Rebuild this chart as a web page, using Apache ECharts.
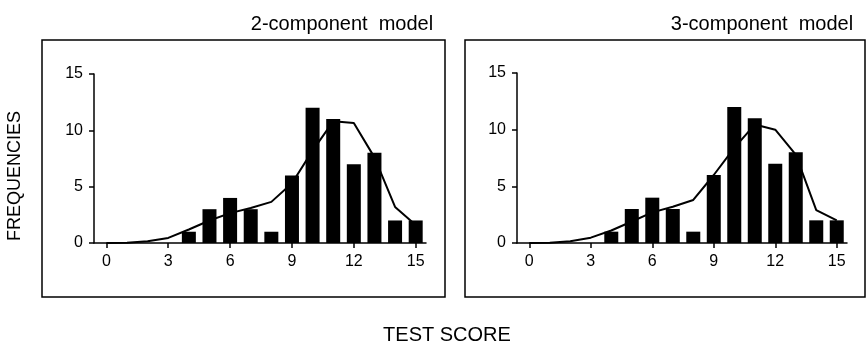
<!DOCTYPE html>
<html><head><meta charset="utf-8">
<script src="https://cdn.jsdelivr.net/npm/echarts@6/dist/echarts.min.js"></script>
<style>html,body{margin:0;padding:0;background:#fff}#c{width:866px;height:345px}</style>
</head><body><div id="c"></div>
<script>
const scores = [0,1,2,3,4,5,6,7,8,9,10,11,12,13,14,15];
const observed = [0,0,0,0,1,3,4,3,1,6,12,11,7,8,2,2];
const fit2 = [0,0.03,0.15,0.45,1.2,2.0,2.65,3.1,3.65,5.3,8.2,10.8,10.65,7.6,3.2,1.6];
const fit3 = [0,0.03,0.15,0.47,1.1,1.9,2.7,3.2,3.8,6.0,8.4,10.45,10.0,7.8,2.9,2.0];
const xTicks = [0,3,6,9,12,15];
const yTicks = [0,5,10,15];
const panelTitles = ['2-component  model','3-component  model'];
const xTitle = 'TEST SCORE';
const yTitle = 'FREQUENCIES';

const font = 'Liberation Sans, Arial, sans-serif';
const chart = echarts.init(document.getElementById('c'));
const grids = [
  {left:94, top:74, width:332, height:169},
  {left:517, top:73, width:330, height:170}
];
const xAxes = grids.map((g,i)=>({
  type:'value', gridIndex:i, min:-0.6, max:15.5,
  splitLine:{show:false},
  axisLine:{show:true, onZero:false, lineStyle:{color:'#000', width:1.5}},
  axisTick:{show:true, customValues:xTicks, length:5, lineStyle:{color:'#000', width:1.5}},
  axisLabel:{customValues:xTicks, color:'#000', fontFamily:font, fontSize:16, margin:11}
}));
const yAxes = grids.map((g,i)=>({
  type:'value', gridIndex:i, min:0, max:15, interval:5,
  splitLine:{show:false},
  axisLine:{show:true, onZero:false, lineStyle:{color:'#000', width:1.5}},
  axisTick:{show:true, length:5, lineStyle:{color:'#000', width:1.5}},
  axisLabel:{color:'#000', fontFamily:font, fontSize:16, margin:11}
}));
const pair = arr => scores.map((s,k)=>[s, arr[k]]);
const series = [];
[fit2, fit3].forEach((fit,i)=>{
  series.push({type:'bar', xAxisIndex:i, yAxisIndex:i, data:pair(observed), barWidth:14,
    itemStyle:{color:'#000'}, silent:true, z:2});
  series.push({type:'line', xAxisIndex:i, yAxisIndex:i, data:pair(fit), symbol:'none',
    lineStyle:{color:'#000', width:2}, silent:true, z:3});
});
const tStyle = {fontFamily:font, fontSize:20, fontWeight:'normal', color:'#000'};
chart.setOption({
  animation:false,
  title: [
    {text:panelTitles[0], left:337, top:9, textAlign:'center', textStyle:tStyle},
    {text:panelTitles[1], left:757, top:9, textAlign:'center', textStyle:tStyle}
  ],
  grid: grids,
  xAxis: xAxes,
  yAxis: yAxes,
  series: series,
  graphic: [
    {type:'rect', shape:{x:42, y:40, width:403, height:257}, style:{fill:'none', stroke:'#000', lineWidth:1.5}, z:-1},
    {type:'rect', shape:{x:465, y:40, width:400, height:257}, style:{fill:'none', stroke:'#000', lineWidth:1.5}, z:-1},
    {type:'text', x:447, y:335, style:{text:xTitle, fontFamily:font, fontSize:20, fill:'#000', align:'center', verticalAlign:'middle'}},
    {type:'text', x:15, y:176, rotation:Math.PI/2, style:{text:yTitle, fontFamily:font, fontSize:18, fill:'#000', align:'center', verticalAlign:'middle'}}
  ]
});
</script></body></html>
